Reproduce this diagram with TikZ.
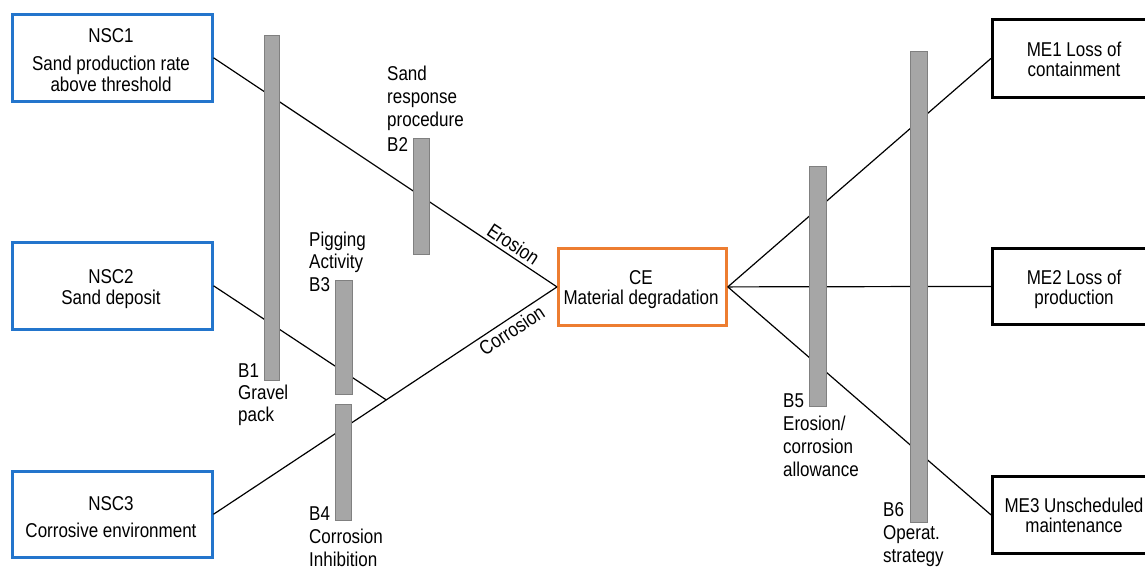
\documentclass[tikz,border=0pt]{standalone}
\usepackage{fontspec}
\setmainfont{Liberation Sans}[FakeStretch=0.85]
\usetikzlibrary{calc}
\definecolor{nscblue}{RGB}{35,117,204}
\definecolor{ceorange}{RGB}{237,125,49}
\definecolor{barfill}{RGB}{166,166,166}
\definecolor{barline}{RGB}{128,128,128}
\begin{document}
\begin{tikzpicture}[x=1pt, y=-1pt, font=\fontsize{20}{23}\selectfont,
  nscbox/.style={draw=nscblue, line width=2.5pt, fill=white, anchor=north west, inner sep=0, minimum width=200pt, minimum height=87pt},
  cebox/.style={draw=ceorange, line width=2.8pt, fill=white, anchor=north west, inner sep=0, minimum width=168pt, minimum height=77pt},
  mebox/.style={draw=black, line width=2.8pt, fill=white, anchor=north west, inner sep=0, minimum width=166pt, minimum height=77pt},
  barrier/.style={draw=barline, fill=barfill, line width=1.3pt, anchor=north west, inner sep=0, minimum width=16pt},
  ctext/.style={anchor=base, inner sep=0},
  ltext/.style={anchor=base west, inner sep=0},
  conn/.style={line width=1.2pt}]
\useasboundingbox (0,0) rectangle (1145,566);

% boxes
\node[nscbox] (nsc1) at (11,13) {};
\node[nscbox] (nsc2) at (11,241) {};
\node[nscbox, minimum height=86pt] (nsc3) at (11,470) {};
\node[cebox] (ce) at (557,247) {};
\node[mebox, minimum height=78pt] (me1) at (991,18) {};
\node[mebox, minimum height=76pt] (me2) at (991,247) {};
\node[mebox] (me3) at (991,475) {};

% connectors
\coordinate (j) at ($(nsc3.east)!0.503!(ce.west)$);
\draw[conn] (nsc1.east) -- node[pos=0.855, sloped, above] (lero) {Erosion} (ce.west);
\draw[conn] (nsc3.east) -- node[pos=0.85, sloped, below] (lcor) {Corrosion} (ce.west);
\draw[conn] (nsc2.east) -- (j);
\draw[conn] (ce.east) -- (me1.west);
\draw[conn] (ce.east) -- (me2.west);
\draw[conn] (ce.east) -- (me3.west);

% barriers
\node[barrier, minimum width=15pt, minimum height=345pt] (b1) at (264,35) {};
\node[barrier, minimum height=116pt] (b2) at (413,138) {};
\node[barrier, minimum width=17pt, minimum height=114pt] (b3) at (335,280) {};
\node[barrier, minimum height=116pt] (b4) at (335,404) {};
\node[barrier, minimum width=17pt, minimum height=240pt] (b5) at (809,166) {};
\node[barrier, minimum width=17pt, minimum height=471pt] (b6) at (910,51) {};

% box texts
\node[ctext] (t1a) at (111,42) {NSC1};
\node[ctext] (t1b) at (111,70) {Sand production rate};
\node[ctext] (t1c) at (111,91) {above threshold};
\node[ctext] (t2a) at (111,283) {NSC2};
\node[ctext] (t2b) at (111,304) {Sand deposit};
\node[ctext] (t3a) at (111,510) {NSC3};
\node[ctext] (t3b) at (111,537) {Corrosive environment};
\node[ctext] (tca) at (641,284) {CE};
\node[ctext] (tcb) at (641,304) {Material degradation};
\node[ctext] (tm1a) at (1074,56) {ME1 Loss of};
\node[ctext] (tm1b) at (1074,76) {containment};
\node[ctext] (tm2a) at (1074,284) {ME2 Loss of};
\node[ctext] (tm2b) at (1074,304) {production};
\node[ctext] (tm3a) at (1074,512) {ME3 Unscheduled};
\node[ctext] (tm3b) at (1074,532) {maintenance};

% barrier labels
\node[ltext] (l2a) at (387,80) {Sand};
\node[ltext] (l2b) at (387,103) {response};
\node[ltext] (l2c) at (387,126) {procedure};
\node[ltext] (l2d) at (387,151) {B2};
\node[ltext] (l3a) at (309,246) {Pigging};
\node[ltext] (l3b) at (309,268) {Activity};
\node[ltext] (l3c) at (309,291) {B3};
\node[ltext] (l1a) at (238,377) {B1};
\node[ltext] (l1b) at (238,399) {Gravel};
\node[ltext] (l1c) at (238,421) {pack};
\node[ltext] (l4a) at (309,520) {B4};
\node[ltext] (l4b) at (309,543) {Corrosion};
\node[ltext] (l4c) at (309,566) {Inhibition};
\node[ltext] (l5a) at (783,407) {B5};
\node[ltext] (l5b) at (783,430) {Erosion/};
\node[ltext] (l5c) at (783,453) {corrosion};
\node[ltext] (l5d) at (783,476) {allowance};
\node[ltext] (l6a) at (883,516) {B6};
\node[ltext] (l6b) at (883,539) {Operat.};
\node[ltext] (l6c) at (883,562) {strategy};
\end{tikzpicture}
\end{document}
